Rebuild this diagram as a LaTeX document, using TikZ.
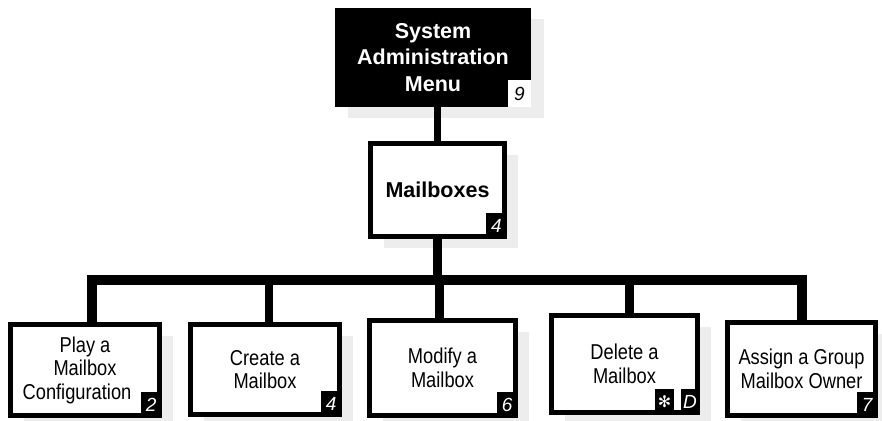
\documentclass[tikz,border=0pt]{standalone}
\usepackage{fontspec}
\setmainfont{Liberation Sans}
\newfontfamily\leaffont[FakeStretch=0.85]{Liberation Sans}
\newfontfamily\starfont{DejaVu Sans}
\usetikzlibrary{positioning, shadows}

\definecolor{shadowgray}{gray}{0.93}

\tikzset{
  boxshadow/.style={drop shadow={shadow xshift=13pt, shadow yshift=-11pt,
                    fill=shadowgray, opacity=1}},
  menubox/.style={rectangle, fill=black, text=white, inner sep=0pt,
                  align=center, boxshadow,
                  font=\bfseries\fontsize{21.5}{26.5}\selectfont},
  groupbox/.style={rectangle, draw=black, fill=white, line width=5pt,
                   inner sep=0pt, align=center, boxshadow,
                   font=\bfseries\fontsize{21.5}{26.5}\selectfont},
  leafbox/.style={rectangle, draw=black, fill=white, line width=4.5pt,
                  inner sep=0pt, align=center, boxshadow,
                  font=\leaffont\fontsize{21.5}{23.5}\selectfont},
  keytag/.style={rectangle, fill=black, text=white, inner sep=0pt,
                 minimum width=21pt, minimum height=26pt,
                 font=\itshape\fontsize{19}{19}\selectfont},
  link/.style={draw=black, line width=8.5pt},
}

\begin{document}
\begin{tikzpicture}[x=1pt, y=-1pt]
\useasboundingbox (0,0) rectangle (882,420);

% menu levels
\node[menubox, minimum width=196pt, minimum height=99pt] (sysmenu) at (433,57.5)
    {System\\Administration\\Menu};
\node[groupbox, minimum width=134pt, minimum height=93pt] (mailboxes) at (437.5,190)
    {Mailboxes};

% the five mailbox tasks
\node[leafbox, minimum width=149pt, minimum height=91pt] (playbox) at (85,370)
    {Play a\\Mailbox\\Configuration\hspace*{16pt}};
\node[leafbox, minimum width=149pt, minimum height=90pt] (createbox) at (265,369.5)
    {Create a\\Mailbox};
\node[leafbox, minimum width=146pt, minimum height=95pt] (modifybox) at (442.5,368)
    {Modify a\\Mailbox};
\node[leafbox, minimum width=146pt, minimum height=97pt] (deletebox) at (624.5,364)
    {Delete a\\Mailbox};
\node[leafbox, minimum width=148pt, minimum height=93pt] (assignbox) at (801.5,369)
    {Assign a Group\\Mailbox Owner};

% key tags
\node[keytag, fill=white, text=black, minimum width=23pt, minimum height=27pt,
      anchor=south east] (systag) at (sysmenu.south east) {9};
\node[keytag, anchor=south east] (mbxtag) at (mailboxes.south east) {4};
\node[keytag, anchor=south east] (playtag) at (playbox.south east) {2};
\node[keytag, anchor=south east] (createtag) at (createbox.south east) {4};
\node[keytag, anchor=south east] (modifytag) at (modifybox.south east) {6};
\node[keytag, minimum width=19pt, anchor=south east] (deltag) at (deletebox.south east) {D};
\node[keytag, minimum width=19pt, left=6pt of deltag, font=\starfont\fontsize{16}{16}\selectfont]
    (startag) {✻};
\node[keytag, anchor=south east] (assigntag) at (assignbox.south east) {7};

% connectors
\coordinate (bus) at (0,280);
\draw[link, line width=7pt] (mailboxes.north |- sysmenu.south) -- (mailboxes.north);
\draw[link] (mailboxes.south) -- (mailboxes.south |- bus);
\draw[link, line width=10pt, line join=miter]
    ([xshift=7pt]playbox.north) -- ([xshift=7pt]playbox.north |- bus)
    -- (assignbox.north |- bus) -- (assignbox.north);
\foreach \leaf/\dx in {createbox/4, modifybox/-3, deletebox/5}
    \draw[link] ([xshift=\dx pt]\leaf.north) -- ([xshift=\dx pt]\leaf.north |- bus);
\end{tikzpicture}
\end{document}
